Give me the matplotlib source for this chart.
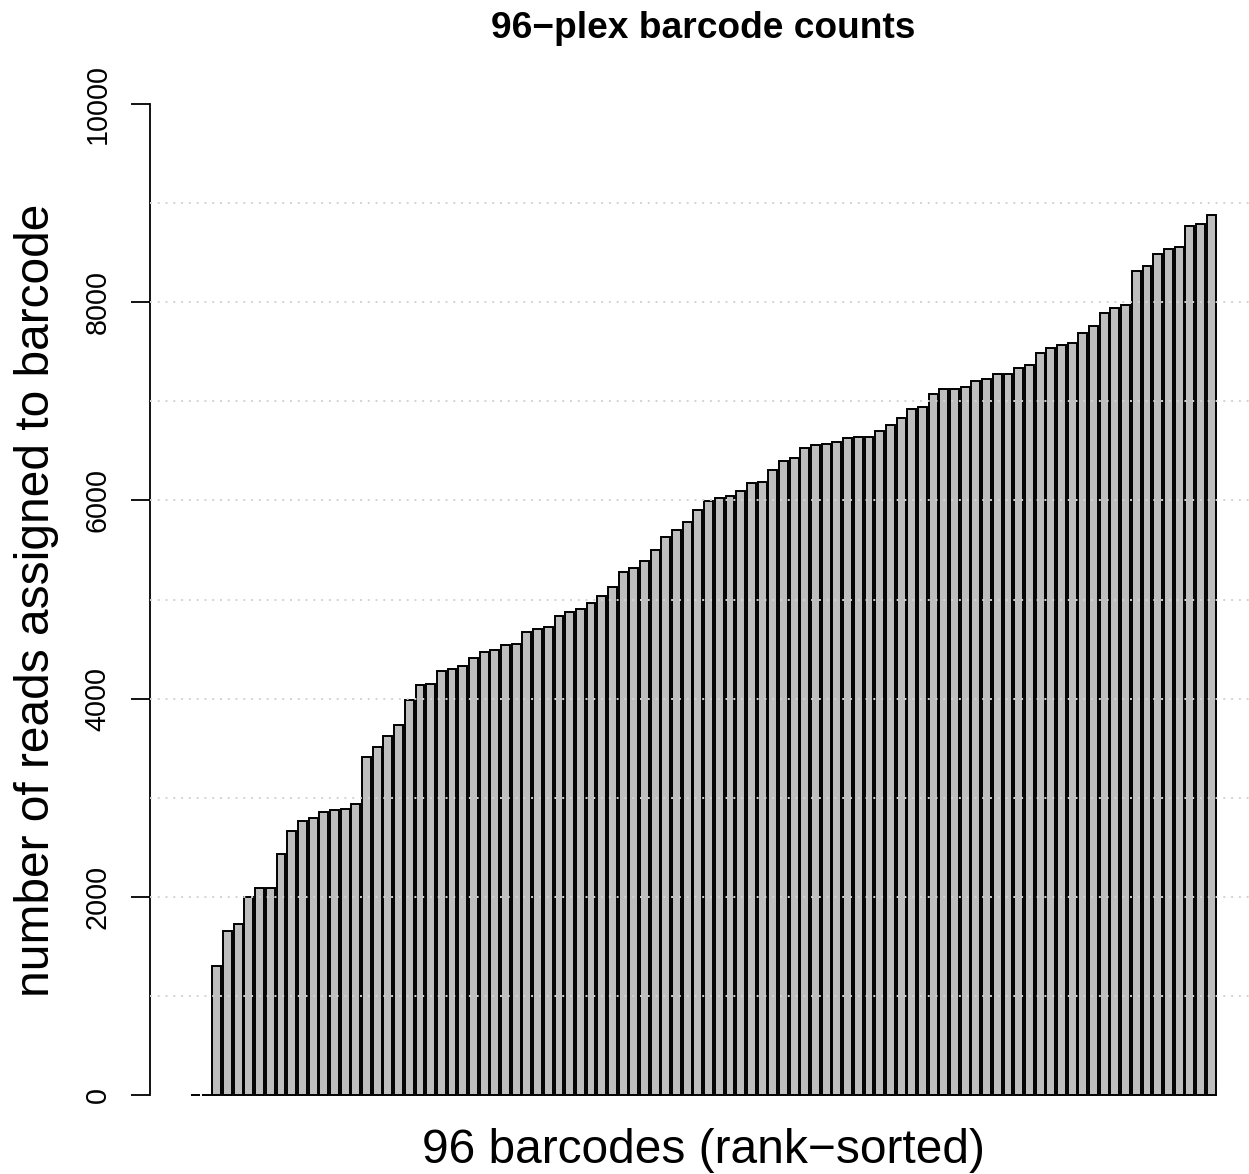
import matplotlib
matplotlib.use("Agg")
import matplotlib.pyplot as plt
import numpy as np

# Reads assigned to each of the 96 barcodes, sorted ascending
read_counts = [
    0, 0, 1300, 1655, 1730, 1998, 2086, 2092, 2429, 2664,
    2762, 2792, 2852, 2876, 2886, 2936, 3414, 3511, 3619, 3737,
    3983, 4134, 4147, 4279, 4296, 4332, 4406, 4467, 4487, 4542,
    4551, 4672, 4705, 4726, 4830, 4874, 4904, 4965, 5039, 5126,
    5274, 5320, 5390, 5495, 5627, 5698, 5780, 5903, 5997, 6027,
    6044, 6092, 6176, 6186, 6306, 6396, 6431, 6529, 6555, 6566,
    6590, 6625, 6638, 6638, 6696, 6766, 6832, 6926, 6941, 7077,
    7121, 7121, 7141, 7205, 7228, 7272, 7272, 7339, 7363, 7491,
    7538, 7572, 7591, 7690, 7757, 7891, 7938, 7975, 8318, 8369,
    8486, 8540, 8557, 8772, 8789, 8883,
]
y_ticks = [0, 2000, 4000, 6000, 8000, 10000]
y_tick_labels = ["0", "2000", "4000", "6000", "8000", "10000"]
grid_levels = [1000, 2000, 3000, 4000, 5000, 6000, 7000, 8000, 9000]
title = "96\u2212plex barcode counts"
x_label = "96 barcodes (rank\u2212sorted)"
y_label = "number of reads assigned to barcode"

plt.rcParams["font.family"] = ["Liberation Sans", "DejaVu Sans"]

W, H = 1249, 1174
fig = plt.figure(figsize=(W / 100, H / 100), dpi=100)

# plot region in pixels (R-style 4% padding around the data range)
left, right, top, bottom = 150.0, 1256.6, 64.4, 1134.6
ax = fig.add_axes([left / W, 1 - bottom / H, (right - left) / W, (bottom - top) / H])

n = len(read_counts)
space, width = 0.2, 1.0
lefts = space + np.arange(n) * (space + width)
ax.bar(lefts, read_counts, width=width, align="edge", color="#BEBEBE",
       edgecolor="black", linewidth=1.4, zorder=2)

for g in grid_levels:
    ax.axhline(g, color="lightgray", lw=1.4, dashes=(1, 3), zorder=3)

span = lefts[-1] + width - lefts[0]
ax.set_xlim(lefts[0] - 0.04 * span, lefts[-1] + width + 0.04 * span)
ax.set_ylim(-400, 10400)

for side in ("top", "right", "bottom"):
    ax.spines[side].set_visible(False)
ax.spines["left"].set_bounds(0, 10000)
ax.spines["left"].set_linewidth(1.3)

ax.set_xticks([])
ax.set_yticks(y_ticks)
ax.set_yticklabels(y_tick_labels, rotation=90, va="center", fontsize=20.7)
ax.tick_params(axis="y", length=13.7, width=1.3, pad=14)

fig.text(37 / W, 1 - 600 / H, y_label, rotation=90, ha="center", va="center",
         fontsize=34.5)
fig.text(703 / W, 1 - 1163 / H, x_label, ha="center", va="baseline",
         fontsize=34.5)
fig.text(703 / W, 1 - 38 / H, title, ha="center", va="baseline",
         fontsize=26.7, fontweight="bold")

fig.savefig("out.png", dpi=100)
